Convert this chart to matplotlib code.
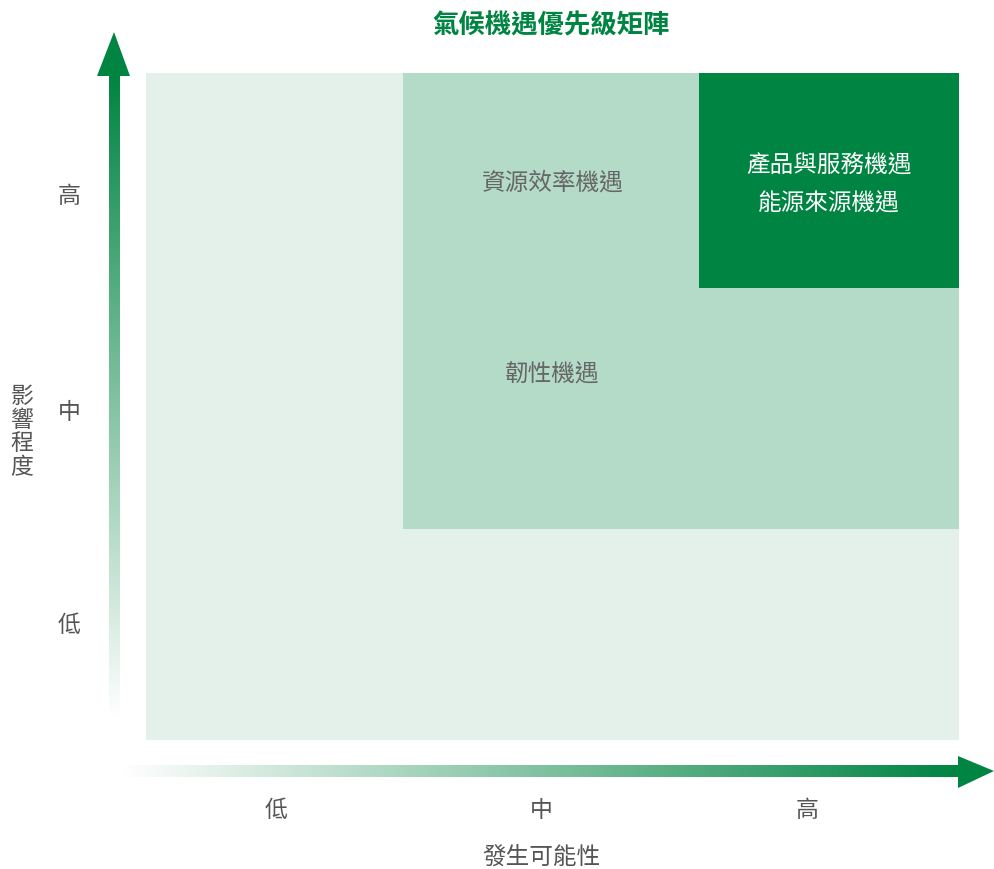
import numpy as np
import matplotlib
matplotlib.use("Agg")
import matplotlib.pyplot as plt
from matplotlib.patches import Rectangle, Polygon

plt.rcParams['font.family'] = ['Noto Sans CJK TC', 'DejaVu Sans']

title = "氣候機遇優先級矩陣"
levels = ["低", "中", "高"]
x_label = "發生可能性"
y_label = "影響程度"

# matrix zones: (likelihood start, impact start) each spanning to the max (3)
zone_x0 = [0.0, 0.95, 2.04]
zone_y0 = [0.0, 0.95, 2.033]
zone_colors = ["#e3f1ea", "#b3dbc8", "#008442"]

# opportunities: label lines, likelihood, impact
opp_labels = ["資源效率機遇", "韌性機遇", "產品與服務機遇\n能源來源機遇"]
opp_x = [1.50, 1.50, 2.52]
opp_y = [2.51, 1.647, 2.503]
opp_colors = ["#666666", "#666666", "#ffffff"]

tick_pos_x = [0.48, 1.46, 2.44]
tick_pos_y = [0.53, 1.49, 2.46]

W, H = 994, 870
fig = plt.figure(figsize=(W / 100, H / 100), dpi=100)

# overlay in pixel coordinates for arrows
ov = fig.add_axes([0, 0, 1, 1])
ov.set_xlim(0, W)
ov.set_ylim(H, 0)
ov.axis("off")

green = np.array([0x00, 0x84, 0x42]) / 255.0

def gradient_arrow(poly_pts, extent, vertical):
    n = 256
    t = np.linspace(0, 1, n)
    if vertical:
        img = np.zeros((n, 1, 4))
        img[:, 0, :3] = green
        img[:, 0, 3] = t[::-1]
    else:
        img = np.zeros((1, n, 4))
        img[0, :, :3] = green
        img[0, :, 3] = t
    im = ov.imshow(img, extent=extent, aspect="auto", interpolation="bilinear", zorder=2)
    poly = Polygon(poly_pts, closed=True, facecolor="none", edgecolor="none",
                   transform=ov.transData)
    ov.add_patch(poly)
    im.set_clip_path(poly)

# vertical arrow
v_pts = [(109, 722), (120, 722), (120, 77), (130, 77), (114, 33), (97, 77), (109, 77)]
gradient_arrow(v_pts, extent=(95, 132, 722, 77), vertical=True)
ov.add_patch(Polygon([(130, 77), (114, 33), (97, 77)], closed=True,
                     facecolor=green, edgecolor="none", zorder=3))

# horizontal arrow
h_pts = [(118, 766), (958, 766), (958, 757), (994, 772), (958, 789), (958, 778), (118, 778)]
gradient_arrow(h_pts, extent=(118, 958, 790, 755), vertical=False)
ov.add_patch(Polygon([(958, 757), (994, 772), (958, 789)], closed=True,
                     facecolor=green, edgecolor="none", zorder=3))

# main matrix axes
left, right, top, bottom = 146, 959, 74, 741
ax = fig.add_axes([left / W, 1 - bottom / H, (right - left) / W, (bottom - top) / H])
ax.set_xlim(0, 3)
ax.set_ylim(0, 3)
for s in ax.spines.values():
    s.set_visible(False)
for x0, y0, c in zip(zone_x0, zone_y0, zone_colors):
    ax.add_patch(Rectangle((x0, y0), 3 - x0, 3 - y0, facecolor=c, edgecolor="none"))

for lab, x, y, c in zip(opp_labels, opp_x, opp_y, opp_colors):
    ax.text(x, y, lab, ha="center", va="center", color=c, fontsize=17,
            linespacing=1.92)

ax.set_xticks(tick_pos_x)
ax.set_xticklabels(levels, fontsize=16.5, color="#555555")
ax.set_yticks(tick_pos_y)
ax.set_yticklabels(levels, fontsize=16.5, color="#555555")
ax.tick_params(axis="x", length=0, pad=42)
ax.tick_params(axis="y", length=0, pad=47)

fig.text(551 / W, 1 - 26 / H, title, ha="center", va="center", fontsize=19,
         fontweight="bold", color="#008442")
fig.text(541 / W, 1 - 857 / H, x_label, ha="center", va="center", fontsize=17,
         color="#555555")
fig.text(22 / W, 1 - 432 / H, "\n".join(y_label), ha="center", va="center",
         fontsize=16.5, color="#555555", linespacing=1.05)

fig.savefig("out.png", dpi=100)
